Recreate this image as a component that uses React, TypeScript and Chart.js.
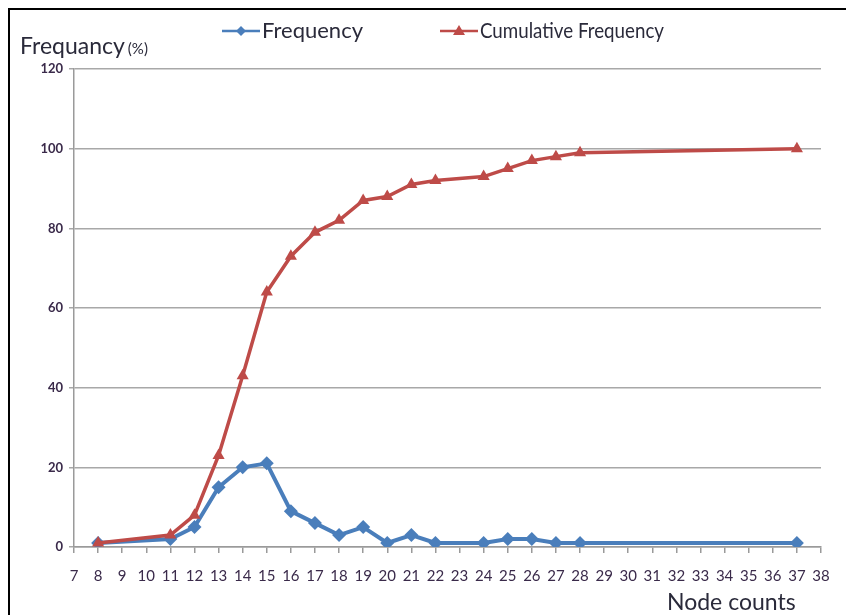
import React, { useEffect, useRef } from "react";
import { Chart, registerables } from "chart.js";

Chart.register(...registerables);

const nodeCounts = [8, 11, 12, 13, 14, 15, 16, 17, 18, 19, 20, 21, 22, 24, 25, 26, 27, 28, 37];
const frequency = [1, 2, 5, 15, 20, 21, 9, 6, 3, 5, 1, 3, 1, 1, 2, 2, 1, 1, 1];
const cumulative = [1, 3, 8, 23, 43, 64, 73, 79, 82, 87, 88, 91, 92, 93, 95, 97, 98, 99, 100];
const seriesNames = ["Frequency", "Cumulative Frequency"];
const seriesColors = ["#4a7ebb", "#be4b48"];
const yTitleMain = "Frequancy";
const yTitleUnit = "(%)";
const xTitle = "Node counts";

const FONT = "Lato, 'Open Sans', sans-serif";
const TEXT = "#2a2a3a";

const decorPlugin = {
  id: "decor",
  afterDraw(chart: any) {
    const ctx = chart.ctx;
    ctx.save();
    // Legend
    ctx.font = `22px ${FONT}`;
    ctx.textBaseline = "middle";
    const lineLen = 38;
    const gap = 2;
    const starts = [212, 430];
    const maxW = [107, 184];
    const ly = 21;
    seriesNames.forEach((name, i) => {
      const x = starts[i];
      ctx.strokeStyle = seriesColors[i];
      ctx.fillStyle = seriesColors[i];
      ctx.lineWidth = 2.5;
      ctx.beginPath();
      ctx.moveTo(x, ly);
      ctx.lineTo(x + lineLen, ly);
      ctx.stroke();
      const cx = x + lineLen / 2;
      ctx.beginPath();
      if (i === 0) {
        ctx.moveTo(cx, ly - 5);
        ctx.lineTo(cx + 5, ly);
        ctx.lineTo(cx, ly + 5);
        ctx.lineTo(cx - 5, ly);
      } else {
        ctx.moveTo(cx, ly - 6);
        ctx.lineTo(cx + 6, ly + 4);
        ctx.lineTo(cx - 6, ly + 4);
      }
      ctx.closePath();
      ctx.fill();
      ctx.fillStyle = TEXT;
      ctx.textAlign = "left";
      ctx.fillText(name, x + lineLen + gap, ly, maxW[i]);
    });
    // Y title
    ctx.font = `23px ${FONT}`;
    ctx.fillStyle = TEXT;
    ctx.textAlign = "left";
    ctx.fillText(yTitleMain, 10, 37);
    const w = ctx.measureText(yTitleMain).width;
    ctx.font = `15px ${FONT}`;
    ctx.fillText(yTitleUnit, 10 + w + 3, 39);
    // X title
    ctx.font = `23px ${FONT}`;
    ctx.textAlign = "left";
    ctx.fillText(xTitle, 657, 593);
    ctx.restore();
  },
};

export default function App() {
  const ref = useRef<HTMLCanvasElement>(null);
  useEffect(() => {
    if (!ref.current) return;
    const mk = (ys: number[]) => nodeCounts.map((x, i) => ({ x, y: ys[i] }));
    const chart = new Chart(ref.current, {
      type: "line",
      data: {
        datasets: [
          {
            label: seriesNames[0],
            data: mk(frequency),
            borderColor: seriesColors[0],
            backgroundColor: seriesColors[0],
            borderWidth: 4,
            pointStyle: "rectRot",
            pointRadius: 7,
            pointBorderWidth: 0,
            order: 1,
          },
          {
            label: seriesNames[1],
            data: mk(cumulative),
            borderColor: seriesColors[1],
            backgroundColor: seriesColors[1],
            borderWidth: 3.5,
            pointStyle: "triangle",
            pointRadius: 7,
            pointBorderWidth: 0,
            order: 0,
          },
        ],
      },
      options: {
        responsive: false,
        animation: false,
        layout: { padding: { left: 0, top: 59, right: 25, bottom: 0 } },
        plugins: { legend: { display: false }, tooltip: { enabled: false } },
        scales: {
          x: {
            type: "linear",
            min: 7,
            max: 38,
            afterFit: (s: any) => {
              s.height = 68;
            },
            ticks: {
              stepSize: 1,
              color: "#3a2a4a",
              font: { family: FONT, size: 15 },
              padding: 14,
            },
            grid: {
              drawOnChartArea: false,
              drawTicks: true,
              tickLength: 6,
              color: "#9a9a9a",
              lineWidth: 1.5,
            },
            border: { display: true, color: "#9a9a9a", width: 1.5 },
          },
          y: {
            min: 0,
            max: 120,
            afterFit: (s: any) => {
              s.width = 64;
            },
            ticks: {
              stepSize: 20,
              color: "#3a2a4a",
              font: { family: FONT, size: 13, weight: "bold" },
              padding: 6,
            },
            grid: {
              color: "#a8a8a8",
              lineWidth: 1.5,
              drawTicks: true,
              tickLength: 5,
            },
            border: { display: true, color: "#9a9a9a", width: 1.5 },
          },
        },
      },
      plugins: [decorPlugin],
    });
    return () => chart.destroy();
  }, []);
  return (
    <div
      style={{
        position: "fixed",
        left: 8,
        top: 8,
        borderLeft: "2px solid #000",
        borderTop: "2px solid #000",
        width: 836,
        height: 605,
        background: "#fff",
        overflow: "hidden",
      }}
    >
      <canvas ref={ref} width={836} height={605} style={{ display: "block" }} />
    </div>
  );
}
